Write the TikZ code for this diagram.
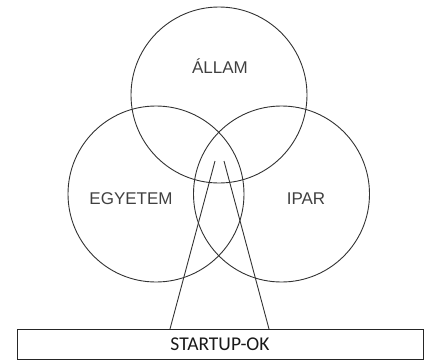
\documentclass[tikz,border=0pt]{standalone}
\usepackage{fontspec}
\setmainfont{Liberation Sans}
\newfontfamily\calib{Carlito}
\begin{document}
\begin{tikzpicture}[x=1pt,y=-1pt,
  ring/.style={circle, draw=black!80, line width=0.9pt, minimum size=176pt, inner sep=0pt},
  lbl/.style={text=black!75, font=\fontsize{17}{20}\selectfont, inner sep=0pt},
  ray/.style={draw=black!80, line width=0.9pt},
  bar/.style={draw=black!85, line width=0.9pt, minimum width=406pt, minimum height=30pt, inner sep=0pt, font=\calib\fontsize{19.5}{22}\selectfont, text=black!90}]
\useasboundingbox (0,0) rectangle (424,360);
\node[ring] (allam) at (219,95) {};
\node[ring] (egyetem) at (156,194) {};
\node[ring] (ipar) at (281.5,194) {};
\node[lbl] (tallam) at (220,66) {ÁLLAM};
\node[lbl] (tegy) at (131,199) {EGYETEM};
\node[lbl] (tipar) at (306,199) {IPAR};
\node[bar] (startup) at (220,344) {STARTUP-OK};
\coordinate (la) at (215,161);
\coordinate (ra) at (224,161);
\coordinate (lb) at (170,329);
\coordinate (rb) at (269,329);
\draw[ray] (la) -- (lb);
\draw[ray] (ra) -- (rb);
\end{tikzpicture}
\end{document}
